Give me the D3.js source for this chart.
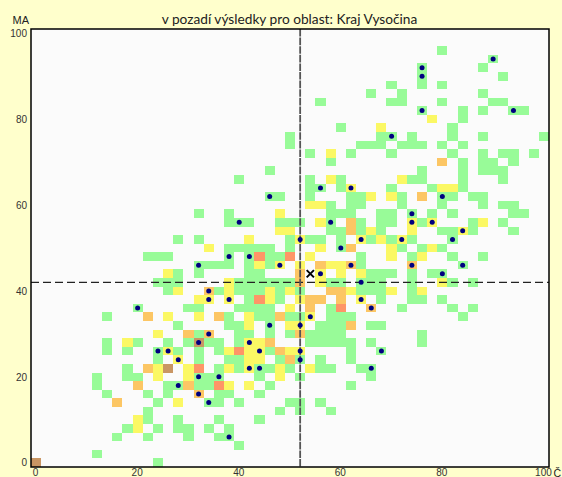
<!DOCTYPE html>
<html>
<head>
<meta charset="utf-8">
<script src="https://cdn.jsdelivr.net/npm/d3@7"></script>
<style>
  html, body { margin: 0; padding: 0; background: #ffffcc; overflow: hidden; }
</style>
</head>
<body>
<div id="container"></div>
<script>
// each row: first number is MA (y), the rest are the Č (x) values of the cells in that row
const level1 = [[96,80],[94,90],[92,76,88],[90,76,92],[88,70,76,80],[86,66,72,88],[84,56,70,72,80,90,92],[82,76,84,88,94,96],[80,84],[78,60,82],[76,50,68,70,74,82,88,100],[74,50,64,66,68,72,74,76,80,84],[72,54,62,70,82,88,92,94,98],[70,58,84,88,90,94],[68,46,76,84,88,90,92],[66,40,54,60,74,76,84,92],[64,54,56,60,70,78,84],[62,46,48,54,62,64,72,80,82,86,88],[60,58,62,64,72,80,88,92,94],[58,32,38,58,60,62,68,70,74,78,82,94,96],[56,38,40,42,48,50,52,58,64,68,70,76,86,92],[54,58,60,64,68,80,82,86,94],[52,28,32,50,54,56,60,66,70,74,82],[50,38,40,42,44,46,50,60,72,76,80],[48,22,24,26,38,42,46,48,64,74,82,88],[46,32,34,36,38,42,46,64,84],[44,28,32,42,44,66,68,70,74,78,80],[42,24,26,28,40,42,44,46,48,50,58,60,64,66,68,74,82,86],[40,26,36,40,42,44,48,52,64,66,68,74],[38,42,48,68,74,76,80],[36,20,30,32,40,42,44,46,58,72,82,86],[34,14,38,44,46,50,52,58,60,62,84],[32,28,38,40,46,56,58,60,66,68],[30,32,40,42,46,50,54,56,58,60,76],[28,14,20,26,30,34,36,40,54,56,58,60,62,66,76],[26,14,18,24,28,32,36,46,62,68],[24,24,32,38,40,48,52,56,62],[22,18,36,40,44,46,50,56,58,64,66],[20,12,18,20,32,34,36,44,52,66],[18,12,26,28,32,34,46,62],[16,14,22,26,36,38,44],[14,24,34,36,40,50,52,56],[12,22,48,52,58],[10,22,28,36,44],[8,18,24,28,30,34,38],[6,16,22,30,36,38],[4,40],[2,12],[0,24]];
const level2 = [[80,78],[78,68],[72,58],[66,58,72],[64,62,80,82],[62,66,70],[60,54,56],[58,48],[56,56,74,78,88],[54,48,50,66,74,84],[52,42,52,64,68,72],[50,34,56,70,78],[48,54,70,76],[46,44,48,52,58,60],[44,26,56,60,64],[42,38,56,80],[40,28,38,46,50,62,70,76],[38,32,34,38,46,52,64],[36,50],[34,26,32,42,54],[32,42,50,52],[30,24],[28,18,42,44],[26,26,38,42,44,50,52],[24,28,42,44],[22,24,30,38,42,48,54],[20,24,30,48],[18,38,42],[14,28],[10,20],[8,20]];
const level3 = [[70,80],[62,76],[56,62],[54,62],[50,62],[46,56,62,74],[44,52],[42,52],[40,34,58,60],[38,54,56,60],[36,54,66],[34,22,36,48],[32,62],[30,30,34,52],[28,46],[26,48],[24,50],[22,22],[18,20,30],[16,32],[14,16]];
const level4 = [[48,44,50],[38,44],[36,60],[26,40],[22,32],[18,36]];
const level5 = [[28,32],[22,26],[0,0]];
const levelColors = ['#98fb98', '#fbf864', '#fcc664', '#fe9567', '#c99664'];

// district results
const pointsX = [90,76,76,76,94,70,46,40,56,62,80,74,58,74,78,84,52,64,72,82,60,38,42,32,48,62,74,84,56,80,64,34,34,38,64,66,20,54,46,52,34,32,42,24,26,44,52,68,28,52,42,44,66,32,36,28,32,34,38];
const pointsY = [94,92,90,82,82,76,62,56,64,64,62,58,56,56,56,54,52,52,52,52,50,48,48,46,46,46,46,46,44,44,42,40,38,38,38,36,36,34,32,32,30,28,28,26,26,26,26,26,24,24,22,22,22,20,20,18,16,14,6];

const regionMark = [54, 44];
const meanX = 52;
const meanY = 42;
const xTicks = [0, 20, 40, 60, 80, 100];
const yTicks = [0, 20, 40, 60, 80, 100];
const title = 'v pozadí výsledky pro oblast: Kraj Vysočina';

const svg = d3.select('#container')
  .append('svg')
  .attr('width', 562)
  .attr('height', 477)
  .style('display', 'block');

const left = 31, right = 549, top_ = 29, bottom = 467;

const x = d3.scaleLinear().domain([-1, 101]).range([left, right]);
const y = d3.scaleLinear().domain([-1, 101]).range([bottom, top_]);

svg.append('rect')
  .attr('width', 562)
  .attr('height', 477)
  .attr('fill', '#ffffcc');

svg.append('rect')
  .attr('x', left)
  .attr('y', top_)
  .attr('width', right - left)
  .attr('height', bottom - top_)
  .attr('fill', '#fbfbfb');

// flatten the rows into cells
const cells = [];
[level1, level2, level3, level4, level5].forEach((rows, i) => {
  rows.forEach(row => {
    row.slice(1).forEach(v => cells.push({x: v, y: row[0], color: levelColors[i]}));
  });
});

svg.append('g')
  .selectAll('rect')
  .data(cells)
  .join('rect')
  .attr('x', d => x(d.x - 1))
  .attr('y', d => y(d.y + 1))
  .attr('width', d => x(d.x + 1) - x(d.x - 1))
  .attr('height', d => y(d.y - 1) - y(d.y + 1))
  .attr('fill', d => d.color)
  .attr('shape-rendering', 'crispEdges');

svg.append('line')
  .attr('x1', left)
  .attr('x2', right)
  .attr('y1', y(meanY))
  .attr('y2', y(meanY))
  .attr('stroke', '#222')
  .attr('stroke-width', 1.2)
  .attr('stroke-dasharray', '8,4');

svg.append('line')
  .attr('x1', x(meanX))
  .attr('x2', x(meanX))
  .attr('y1', top_)
  .attr('y2', bottom)
  .attr('stroke', '#555')
  .attr('stroke-width', 1.8)
  .attr('stroke-dasharray', '7.6,1');

svg.append('g')
  .selectAll('circle')
  .data(pointsX)
  .join('circle')
  .attr('cx', d => x(d))
  .attr('cy', (d, i) => y(pointsY[i]))
  .attr('r', 2.5)
  .attr('fill', '#000080');

svg.append('path')
  .attr('d', d3.symbol().type(d3.symbolX).size(36)())
  .attr('transform', `translate(${x(regionMark[0])},${y(regionMark[1])})`)
  .attr('fill', 'none')
  .attr('stroke', '#000')
  .attr('stroke-width', 2);

// frame
svg.append('rect')
  .attr('x', left)
  .attr('y', top_)
  .attr('width', right - left)
  .attr('height', bottom - top_)
  .attr('fill', 'none')
  .attr('stroke', '#000')
  .attr('stroke-width', 1.5);

const xAxis = svg.append('g')
  .attr('transform', `translate(-1,${bottom})`)
  .call(d3.axisBottom(x).tickValues(xTicks).tickSize(0).tickPadding(2));

const yAxis = svg.append('g')
  .attr('transform', `translate(${left},0)`)
  .call(d3.axisLeft(y).tickValues(yTicks).tickSize(0).tickPadding(4));

[xAxis, yAxis].forEach(a => {
  a.select('.domain').remove();
  a.selectAll('text')
    .attr('font-family', '"Liberation Sans", Arial, sans-serif')
    .attr('font-size', 10)
    .attr('fill', '#333');
});

svg.append('text')
  .attr('x', 12.5)
  .attr('y', 23.5)
  .attr('font-family', '"Liberation Sans", Arial, sans-serif')
  .attr('font-size', 11)
  .attr('fill', '#222')
  .text('MA');

svg.append('text')
  .attr('x', 553.5)
  .attr('y', 476.5)
  .attr('font-family', '"Liberation Sans", Arial, sans-serif')
  .attr('font-size', 10.5)
  .attr('fill', '#222')
  .text('Č');

svg.append('text')
  .attr('x', 289.5)
  .attr('y', 23.5)
  .attr('text-anchor', 'middle')
  .attr('font-family', 'Lato, sans-serif')
  .attr('font-size', 13.7)
  .attr('fill', '#222')
  .text(title);
</script>
</body>
</html>
